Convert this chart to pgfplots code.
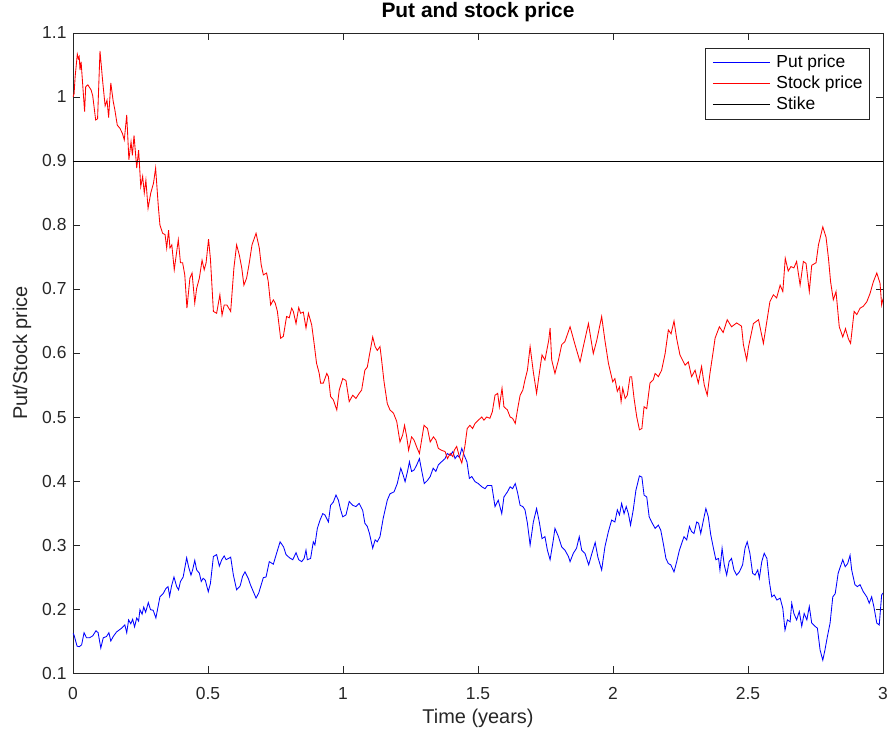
\documentclass[border=0pt]{standalone}
\usepackage{fontspec}
\setmainfont{Liberation Sans}
\usepackage{pgfplots}
\pgfplotsset{compat=1.18}
\usetikzlibrary{calc}
\definecolor{axgray}{RGB}{38,38,38}
\begin{document}
\begin{tikzpicture}
\begin{axis}[
  scale only axis, width=810bp, height=640bp,
  xmin=0, xmax=3, ymin=0.1, ymax=1.1,
  xtick={0,0.5,1,1.5,2,2.5,3},
  ytick={0.1,0.2,0.3,0.4,0.5,0.6,0.7,0.8,0.9,1,1.1},
  tick align=inside, major tick length=7bp,
  axis line style={draw=axgray, line width=0.6bp},
  every tick/.style={draw=axgray, line width=0.6bp},
  ticklabel style={font=\fontsize{17.5}{20}\selectfont, text=axgray},
  xticklabel style={yshift=-10.5bp},
  yticklabel style={xshift=-3bp},
  /pgf/number format/assume math mode=true,
  title={Put and stock price},
  title style={font=\fontsize{21}{24}\selectfont\bfseries, at={([yshift=15bp]axis description cs:0.5,1)}, anchor=center, yshift=0pt},
  xlabel={Time (years)},
  ylabel={Put/Stock price},
  xlabel style={font=\fontsize{20}{24}\selectfont, text=axgray, at={([yshift=-45bp]axis description cs:0.5,0)}, anchor=center},
  ylabel style={font=\fontsize{20}{24}\selectfont, text=axgray, at={([xshift=-51bp]axis description cs:0,0.5)}, anchor=center},
  legend style={at={(1,1)}, anchor=north east, xshift=-13bp, yshift=-15bp, draw=axgray, line width=0.6bp,
    font=\fontsize{17.5}{20}\selectfont, inner xsep=7bp, inner ysep=6.5bp, row sep=5bp, column sep=6bp,
    nodes={inner sep=0pt, text height=12.5bp, text depth=3.5bp}},
  legend cell align=left,
  legend image code/.code={\draw[#1, line width=1bp] (0bp,0bp) -- (57bp,0bp);},
  every axis plot/.append style={line width=0.85bp},
]
\coordinate (SW) at (rel axis cs:0,0);
\coordinate (NE) at (rel axis cs:1,1);
\addplot[color=blue, no marks] coordinates {
(0.000,0.162)(0.004,0.159)(0.015,0.142)(0.023,0.141)(0.032,0.144)(0.041,0.163)(0.050,0.155)(0.061,0.155)(0.073,0.158)(0.085,0.166)
(0.093,0.163)(0.103,0.139)(0.112,0.155)(0.124,0.157)(0.133,0.163)(0.140,0.150)(0.149,0.157)(0.161,0.164)(0.180,0.170)(0.192,0.175)
(0.199,0.163)(0.206,0.183)(0.214,0.177)(0.221,0.184)(0.228,0.172)(0.236,0.186)(0.243,0.181)(0.248,0.199)(0.256,0.192)(0.262,0.203)
(0.269,0.195)(0.279,0.210)(0.287,0.199)(0.297,0.198)(0.307,0.186)(0.322,0.219)(0.334,0.224)(0.344,0.232)(0.352,0.235)(0.358,0.220)
(0.365,0.236)(0.374,0.250)(0.384,0.235)(0.391,0.230)(0.398,0.243)(0.408,0.250)(0.421,0.280)(0.428,0.266)(0.437,0.253)(0.443,0.261)
(0.451,0.276)(0.458,0.261)(0.468,0.256)(0.475,0.243)(0.482,0.248)(0.490,0.245)(0.501,0.227)(0.509,0.240)(0.520,0.282)(0.532,0.285)
(0.542,0.267)(0.551,0.277)(0.560,0.283)(0.567,0.277)(0.576,0.279)(0.584,0.281)(0.594,0.253)(0.606,0.230)(0.619,0.236)(0.628,0.251)
(0.637,0.258)(0.649,0.248)(0.658,0.237)(0.668,0.227)(0.678,0.217)(0.688,0.225)(0.695,0.235)(0.705,0.249)(0.715,0.250)(0.727,0.274)
(0.742,0.270)(0.754,0.287)(0.767,0.305)(0.780,0.297)(0.789,0.285)(0.802,0.280)(0.814,0.277)(0.826,0.288)(0.836,0.277)(0.847,0.274)
(0.856,0.279)(0.863,0.292)(0.868,0.277)(0.880,0.279)(0.890,0.305)(0.896,0.300)(0.905,0.326)(0.915,0.339)(0.925,0.349)(0.933,0.347)
(0.946,0.336)(0.954,0.362)(0.964,0.367)(0.974,0.378)(0.983,0.370)(0.990,0.357)(0.999,0.344)(1.011,0.347)(1.023,0.368)(1.036,0.362)
(1.048,0.360)(1.060,0.365)(1.073,0.354)(1.081,0.334)(1.090,0.329)(1.098,0.318)(1.110,0.295)(1.119,0.308)(1.127,0.305)(1.137,0.313)
(1.149,0.342)(1.164,0.370)(1.174,0.380)(1.189,0.383)(1.201,0.396)(1.214,0.420)(1.223,0.409)(1.230,0.399)(1.239,0.415)(1.246,0.430)
(1.254,0.415)(1.263,0.417)(1.273,0.425)(1.283,0.435)(1.292,0.415)(1.301,0.396)(1.313,0.401)(1.323,0.407)(1.334,0.420)(1.344,0.415)
(1.353,0.425)(1.365,0.430)(1.378,0.435)(1.386,0.443)(1.397,0.440)(1.407,0.446)(1.415,0.435)(1.424,0.440)(1.431,0.437)(1.440,0.451)
(1.449,0.440)(1.459,0.430)(1.468,0.404)(1.477,0.407)(1.489,0.399)(1.501,0.396)(1.514,0.391)(1.526,0.388)(1.535,0.393)(1.551,0.393)
(1.563,0.360)(1.575,0.370)(1.588,0.349)(1.596,0.375)(1.609,0.383)(1.619,0.391)(1.628,0.388)(1.638,0.396)(1.647,0.381)(1.656,0.362)
(1.666,0.360)(1.674,0.355)(1.683,0.334)(1.693,0.300)(1.705,0.336)(1.717,0.357)(1.727,0.336)(1.737,0.310)(1.748,0.313)(1.757,0.292)
(1.767,0.277)(1.779,0.308)(1.785,0.326)(1.798,0.313)(1.810,0.297)(1.822,0.292)(1.835,0.282)(1.841,0.274)(1.853,0.287)(1.865,0.295)
(1.875,0.313)(1.884,0.292)(1.896,0.287)(1.910,0.269)(1.922,0.287)(1.934,0.304)(1.944,0.281)(1.958,0.261)(1.970,0.297)(1.983,0.321)
(1.995,0.339)(2.007,0.336)(2.016,0.355)(2.024,0.347)(2.032,0.365)(2.041,0.349)(2.049,0.360)(2.057,0.349)(2.065,0.331)(2.075,0.355)
(2.085,0.386)(2.098,0.408)(2.107,0.406)(2.115,0.378)(2.125,0.375)(2.134,0.344)(2.143,0.336)(2.156,0.326)(2.168,0.331)(2.177,0.323)
(2.186,0.303)(2.196,0.279)(2.205,0.271)(2.214,0.269)(2.226,0.258)(2.236,0.274)(2.246,0.292)(2.254,0.302)(2.263,0.313)(2.273,0.308)
(2.283,0.329)(2.291,0.321)(2.300,0.318)(2.310,0.336)(2.317,0.334)(2.325,0.318)(2.335,0.339)(2.344,0.357)(2.353,0.344)(2.362,0.316)
(2.372,0.295)(2.381,0.277)(2.391,0.279)(2.396,0.261)(2.404,0.295)(2.412,0.269)(2.421,0.253)(2.430,0.274)(2.439,0.279)(2.448,0.261)
(2.458,0.253)(2.468,0.258)(2.480,0.269)(2.489,0.295)(2.497,0.305)(2.507,0.287)(2.517,0.256)(2.526,0.253)(2.536,0.261)(2.542,0.248)
(2.551,0.274)(2.560,0.287)(2.570,0.279)(2.579,0.243)(2.588,0.219)(2.597,0.222)(2.607,0.214)(2.619,0.217)(2.629,0.201)(2.637,0.167)
(2.646,0.183)(2.656,0.180)(2.662,0.209)(2.670,0.193)(2.680,0.183)(2.690,0.196)(2.699,0.173)(2.708,0.193)(2.718,0.183)(2.727,0.204)
(2.736,0.178)(2.748,0.173)(2.757,0.170)(2.767,0.136)(2.777,0.120)(2.785,0.136)(2.794,0.157)(2.804,0.178)(2.814,0.219)(2.823,0.224)
(2.834,0.256)(2.842,0.266)(2.851,0.277)(2.860,0.266)(2.869,0.271)(2.878,0.284)(2.884,0.261)(2.896,0.238)(2.905,0.235)(2.915,0.238)
(2.927,0.227)(2.940,0.219)(2.949,0.209)(2.958,0.219)(2.966,0.204)(2.977,0.178)(2.986,0.175)(2.995,0.222)(3.000,0.225)
};
\addlegendentry{Put price}
\addplot[color=red, no marks] coordinates {
(0.000,1.000)(0.004,1.005)(0.008,1.032)(0.016,1.067)(0.020,1.060)(0.023,1.063)(0.026,1.042)(0.030,1.055)(0.043,0.977)(0.047,1.016)
(0.055,1.019)(0.067,1.011)(0.073,1.002)(0.084,0.964)(0.091,0.966)(0.100,1.072)(0.110,1.024)(0.119,0.986)(0.126,0.995)(0.132,0.968)
(0.140,1.022)(0.149,0.993)(0.155,0.980)(0.164,0.956)(0.174,0.951)(0.183,0.943)(0.190,0.933)(0.199,0.972)(0.207,0.902)(0.215,0.930)
(0.220,0.909)(0.226,0.940)(0.236,0.889)(0.243,0.917)(0.251,0.860)(0.258,0.876)(0.264,0.850)(0.270,0.870)(0.278,0.826)(0.288,0.850)
(0.298,0.865)(0.306,0.889)(0.316,0.829)(0.322,0.800)(0.332,0.787)(0.341,0.785)(0.347,0.764)(0.354,0.792)(0.359,0.764)(0.366,0.769)
(0.375,0.730)(0.390,0.777)(0.398,0.741)(0.406,0.741)(0.414,0.722)(0.422,0.670)(0.433,0.717)(0.441,0.725)(0.451,0.678)(0.458,0.701)
(0.468,0.717)(0.478,0.745)(0.486,0.730)(0.493,0.741)(0.502,0.778)(0.509,0.747)(0.520,0.665)(0.532,0.662)(0.544,0.691)(0.552,0.659)
(0.560,0.675)(0.570,0.675)(0.584,0.665)(0.596,0.733)(0.606,0.769)(0.616,0.753)(0.625,0.733)(0.633,0.706)(0.643,0.717)(0.653,0.741)
(0.663,0.769)(0.678,0.787)(0.690,0.764)(0.697,0.738)(0.705,0.722)(0.717,0.725)(0.723,0.712)(0.732,0.675)(0.742,0.683)(0.749,0.678)
(0.757,0.665)(0.769,0.623)(0.779,0.626)(0.791,0.657)(0.801,0.655)(0.810,0.670)(0.816,0.665)(0.826,0.646)(0.836,0.671)(0.843,0.662)
(0.853,0.664)(0.863,0.639)(0.872,0.662)(0.884,0.644)(0.893,0.615)(0.902,0.584)(0.912,0.568)(0.917,0.553)(0.927,0.553)(0.940,0.568)
(0.946,0.563)(0.954,0.532)(0.964,0.527)(0.977,0.511)(0.986,0.542)(0.999,0.560)(1.011,0.557)(1.023,0.524)(1.036,0.534)(1.048,0.529)
(1.060,0.537)(1.069,0.542)(1.081,0.573)(1.090,0.578)(1.098,0.597)(1.110,0.625)(1.119,0.610)(1.127,0.604)(1.137,0.610)(1.143,0.589)
(1.152,0.555)(1.164,0.521)(1.174,0.511)(1.187,0.506)(1.199,0.493)(1.211,0.461)(1.221,0.472)(1.228,0.487)(1.236,0.469)(1.243,0.448)
(1.254,0.469)(1.263,0.464)(1.273,0.453)(1.283,0.443)(1.292,0.466)(1.300,0.487)(1.313,0.482)(1.323,0.461)(1.335,0.469)(1.344,0.464)
(1.353,0.451)(1.365,0.448)(1.378,0.446)(1.387,0.435)(1.397,0.443)(1.407,0.438)(1.412,0.448)(1.421,0.454)(1.431,0.438)(1.440,0.428)
(1.452,0.456)(1.460,0.482)(1.470,0.487)(1.480,0.482)(1.489,0.490)(1.501,0.495)(1.514,0.500)(1.522,0.495)(1.532,0.500)(1.544,0.498)
(1.553,0.508)(1.563,0.534)(1.573,0.537)(1.579,0.516)(1.589,0.545)(1.596,0.516)(1.609,0.511)(1.619,0.500)(1.628,0.498)(1.638,0.490)
(1.647,0.513)(1.656,0.534)(1.666,0.542)(1.674,0.558)(1.683,0.573)(1.693,0.610)(1.705,0.570)(1.717,0.537)(1.727,0.568)(1.737,0.597)
(1.748,0.589)(1.762,0.620)(1.767,0.639)(1.773,0.589)(1.785,0.568)(1.798,0.589)(1.810,0.613)(1.822,0.618)(1.841,0.641)(1.858,0.615)
(1.878,0.586)(1.890,0.610)(1.909,0.646)(1.927,0.599)(1.940,0.620)(1.958,0.657)(1.970,0.620)(1.983,0.584)(1.999,0.555)(2.007,0.560)
(2.016,0.540)(2.024,0.547)(2.030,0.524)(2.036,0.545)(2.045,0.529)(2.053,0.534)(2.063,0.563)(2.069,0.563)(2.078,0.529)(2.088,0.500)
(2.098,0.480)(2.107,0.482)(2.115,0.516)(2.125,0.513)(2.137,0.553)(2.149,0.558)(2.156,0.568)(2.168,0.563)(2.180,0.573)(2.193,0.599)
(2.205,0.636)(2.215,0.630)(2.226,0.650)(2.236,0.622)(2.248,0.597)(2.267,0.581)(2.279,0.586)(2.291,0.563)(2.304,0.573)(2.316,0.553)
(2.328,0.579)(2.338,0.550)(2.349,0.534)(2.359,0.568)(2.372,0.605)(2.378,0.623)(2.394,0.641)(2.408,0.632)(2.423,0.652)(2.439,0.641)
(2.458,0.647)(2.476,0.642)(2.483,0.613)(2.495,0.589)(2.502,0.610)(2.520,0.646)(2.539,0.652)(2.557,0.615)(2.570,0.650)(2.581,0.680)
(2.594,0.691)(2.606,0.686)(2.619,0.706)(2.629,0.696)(2.638,0.748)(2.649,0.728)(2.659,0.735)(2.670,0.733)(2.680,0.743)(2.693,0.706)
(2.705,0.743)(2.715,0.740)(2.727,0.696)(2.736,0.737)(2.752,0.741)(2.761,0.769)(2.777,0.797)(2.789,0.781)(2.798,0.748)(2.806,0.711)
(2.816,0.683)(2.826,0.696)(2.838,0.641)(2.851,0.625)(2.861,0.638)(2.872,0.622)(2.880,0.615)(2.893,0.665)(2.903,0.660)(2.915,0.670)
(2.927,0.673)(2.940,0.680)(2.952,0.693)(2.964,0.711)(2.977,0.725)(2.989,0.709)(2.995,0.675)(3.000,0.685)
};
\addlegendentry{Stock price}
\addplot[color=black, no marks] coordinates {(0,0.9)(3,0.9)};
\addlegendentry{Stike}
\end{axis}
\pgfresetboundingbox
\path ($(SW)+(-73bp,-60bp)$) rectangle ($(NE)+(5bp,33bp)$);
\end{tikzpicture}
\end{document}
